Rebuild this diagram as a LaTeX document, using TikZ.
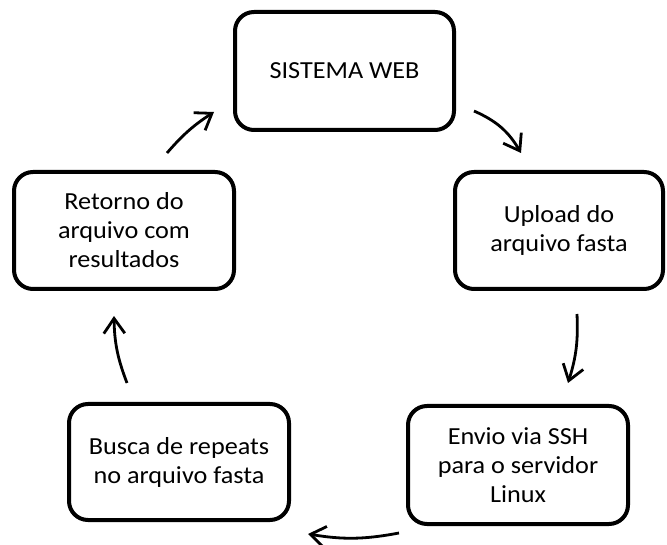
\documentclass[tikz,border=0pt]{standalone}
\usepackage{fontspec}
\setmainfont{Carlito}[FakeStretch=1.07]
\usetikzlibrary{arrows.meta}
\tikzset{
  stagebox/.style={draw=black, line width=4pt, rounded corners=19pt,
    inner sep=0pt, align=center, font=\fontsize{24.5}{29}\selectfont},
  cyclearrow/.style={line width=2.8pt,
    -{Straight Barb[length=15pt,width=21pt,line width=2.8pt]}}
}
\begin{document}
\begin{tikzpicture}[x=1pt,y=1pt]
\useasboundingbox (0,0) rectangle (667,544);
\node[stagebox, minimum width=219pt, minimum height=118pt] (web) at (344.5,473) {SISTEMA WEB};
\node[stagebox, minimum width=208pt, minimum height=117pt] (upload) at (559,313.5) {Upload do\\arquivo fasta};
\node[stagebox, minimum width=220pt, minimum height=118pt] (envio) at (518,79) {Envio via SSH\\para o servidor\\Linux};
\node[stagebox, minimum width=220pt, minimum height=116pt] (busca) at (179,82) {Busca de repeats\\no arquivo fasta};
\node[stagebox, minimum width=220pt, minimum height=117pt] (retorno) at (124,313.5) {Retorno do\\arquivo com\\resultados};
\coordinate (a1s) at (167,391);
\coordinate (a1e) at (214,432);
\coordinate (a2s) at (474,433);
\coordinate (a2e) at (521,391);
\coordinate (a3s) at (577,230);
\coordinate (a3e) at (568,161);
\coordinate (a4s) at (399,11);
\coordinate (a4e) at (308,10);
\coordinate (a5s) at (127,161);
\coordinate (a5e) at (114,228);
\draw[cyclearrow] (a1s) to[bend left=8] (a1e);
\draw[cyclearrow] (a2s) to[bend left=18] (a2e);
\draw[cyclearrow] (a3s) to[bend left=10] (a3e);
\draw[cyclearrow] (a4s) to[bend left=10] (a4e);
\draw[cyclearrow] (a5s) to[bend left=10] (a5e);
\end{tikzpicture}
\end{document}
